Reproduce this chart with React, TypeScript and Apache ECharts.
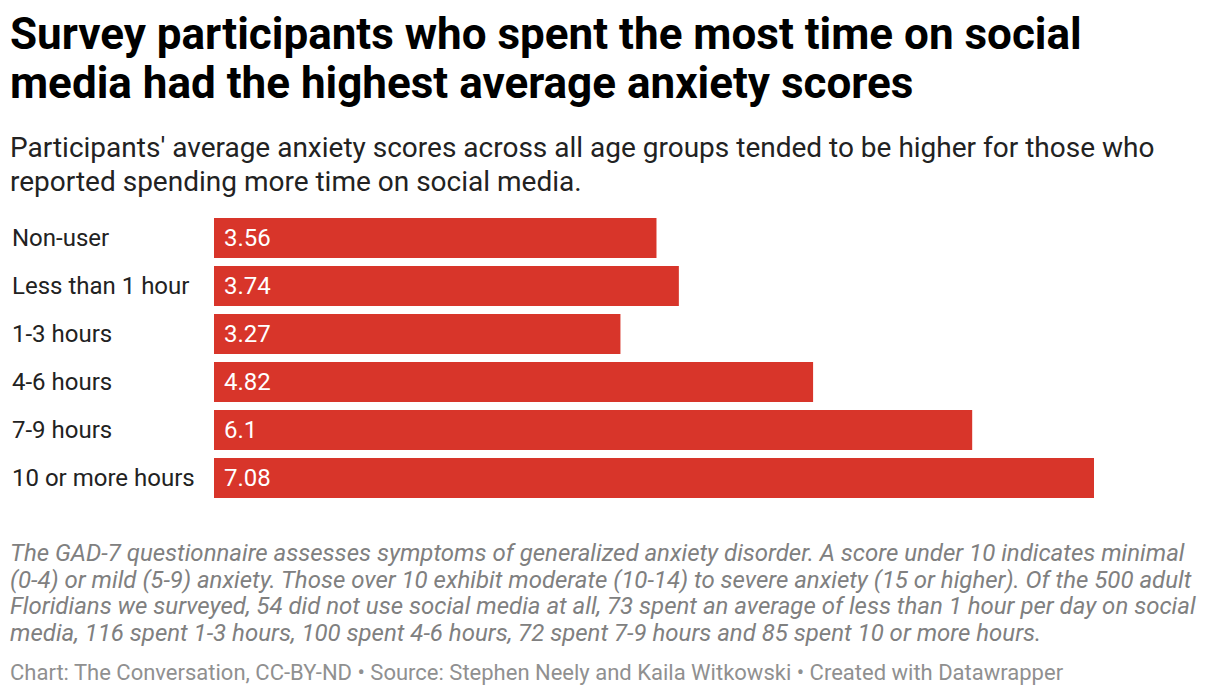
import React, { useEffect, useRef } from "react";
import * as echarts from "echarts";

const categories = ["Non-user", "Less than 1 hour", "1-3 hours", "4-6 hours", "7-9 hours", "10 or more hours"];
const values = [3.56, 3.74, 3.27, 4.82, 6.1, 7.08];

const titleLines = [
  "Survey participants who spent the most time on social",
  "media had the highest average anxiety scores",
];
const subtitleLines = [
  "Participants' average anxiety scores across all age groups tended to be higher for those who",
  "reported spending more time on social media.",
];
const noteLines = [
  "The GAD-7 questionnaire assesses symptoms of generalized anxiety disorder. A score under 10 indicates minimal",
  "(0-4) or mild (5-9) anxiety. Those over 10 exhibit moderate (10-14) to severe anxiety (15 or higher). Of the 500 adult",
  "Floridians we surveyed, 54 did not use social media at all, 73 spent an average of less than 1 hour per day on social",
  "media, 116 spent 1-3 hours, 100 spent 4-6 hours, 72 spent 7-9 hours and 85 spent 10 or more hours.",
];
const footer = "Chart: The Conversation, CC-BY-ND • Source: Stephen Neely and Kaila Witkowski • Created with Datawrapper";

const FONT = "Roboto";

export default function App() {
  const ref = useRef<HTMLDivElement>(null);
  useEffect(() => {
    document.body.style.margin = "0";
    const chart = echarts.init(ref.current!, null, { renderer: "svg" });
    const graphics: any[] = [];
    titleLines.forEach((t, i) => {
      graphics.push({
        type: "text",
        x: 10,
        y: 34 + i * 49,
        style: { text: t, fontFamily: FONT, fontSize: 44, fontWeight: "bold", fill: "#000", verticalAlign: "middle", align: "left" },
      });
    });
    subtitleLines.forEach((t, i) => {
      graphics.push({
        type: "text",
        x: 10,
        y: 147 + i * 34,
        style: { text: t, fontFamily: FONT, fontSize: 28, fill: "#222", verticalAlign: "middle", align: "left" },
      });
    });
    noteLines.forEach((t, i) => {
      graphics.push({
        type: "text",
        x: 10,
        y: 553 + i * 26.7,
        style: { text: t, fontFamily: FONT, fontSize: 24, fontStyle: "italic", fill: "#808080", verticalAlign: "middle", align: "left" },
      });
    });
    graphics.push({
      type: "text",
      x: 10,
      y: 672,
      style: { text: footer, fontFamily: FONT, fontSize: 22, fill: "#909090", verticalAlign: "middle", align: "left" },
    });

    chart.setOption({
      animation: false,
      textStyle: { fontFamily: FONT },
      grid: { left: 214, right: 126, top: 214, height: 288, containLabel: false },
      xAxis: {
        type: "value",
        min: 0,
        max: 7.08,
        show: false,
      },
      yAxis: {
        type: "category",
        data: categories,
        inverse: true,
        axisLine: { show: false },
        axisTick: { show: false },
        axisLabel: { align: "left", margin: 202, fontSize: 24, color: "#222", fontFamily: FONT },
      },
      series: [
        {
          type: "bar",
          data: values,
          barWidth: 40,
          itemStyle: { color: "#d8352a" },
          label: {
            show: true,
            position: "insideLeft",
            distance: 10,
            color: "#fff",
            fontSize: 24,
            fontFamily: FONT,
          },
        },
      ],
      graphic: graphics,
    });
    return () => chart.dispose();
  }, []);
  return <div ref={ref} style={{ width: 1220, height: 696 }} />;
}
